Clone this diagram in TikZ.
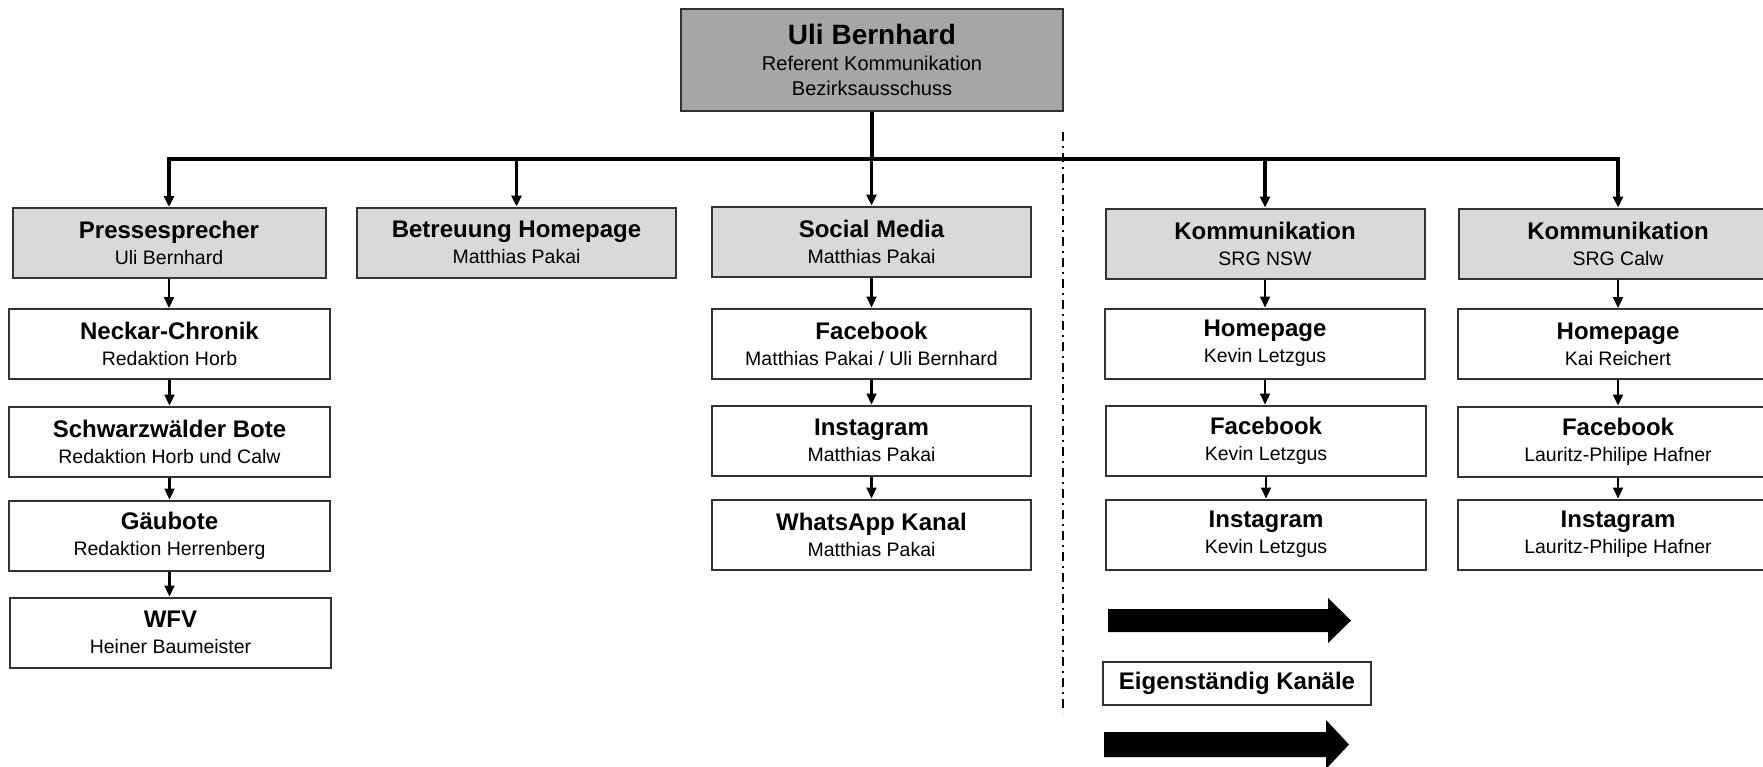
\documentclass[tikz,border=0pt]{standalone}
\usepackage{fontspec}
\setmainfont{Liberation Sans}
\usetikzlibrary{arrows.meta}
\newcommand{\boxtxt}[2]{{\fontsize{24}{26}\selectfont\bfseries #1}\\#2}
\begin{document}
\begin{tikzpicture}[x=1pt,y=-1pt]
\tikzstyle{every node}+=[inner sep=0pt]
\tikzstyle{head}=[draw=black!80, line width=2pt, fill=black!35, minimum width=382pt, minimum height=102pt, align=center, font=\fontsize{20}{25.5}\selectfont]
\tikzstyle{unit}=[draw=black!80, line width=2pt, fill=black!15, minimum width=319pt, minimum height=70pt, align=center, font=\fontsize{19.5}{26}\selectfont]
\tikzstyle{chan}=[unit, fill=white, minimum width=321pt]
\tikzstyle{link}=[black, line width=2.2pt, -{Triangle[length=11pt,width=10pt]}]
\useasboundingbox (0,0) rectangle (1763,766);
\node [head] (ub) at (872,60) {{\fontsize{28}{28}\selectfont\bfseries Uli Bernhard}\\Referent Kommunikation\\Bezirksausschuss};
\node [unit, minimum width=313pt] (press) at (169,243) {\boxtxt{Pressesprecher}{Uli Bernhard}};
\node [unit] (betr) at (516.5,242.5) {\boxtxt{Betreuung Homepage}{Matthias Pakai}};
\node [unit] (social) at (871.5,241.5) {\boxtxt{Social Media}{Matthias Pakai}};
\node [unit] (nsw) at (1265,243.5) {\boxtxt{Kommunikation}{SRG NSW}};
\node [unit] (calw) at (1618,243.5) {\boxtxt{Kommunikation}{SRG Calw}};
\node [chan] (neckar) at (169.5,344) {\boxtxt{Neckar-Chronik}{Redaktion Horb}};
\node [chan] (schwarz) at (169.5,441.5) {\boxtxt{Schwarzwälder Bote}{Redaktion Horb und Calw}};
\node [chan] (gaeu) at (169.5,535.5) {\boxtxt{Gäubote}{Redaktion Herrenberg}};
\node [chan] (wfv) at (170.5,632.5) {\boxtxt{WFV}{Heiner Baumeister}};
\node [chan, minimum width=319pt] (fbsm) at (871.5,343.5) {\boxtxt{Facebook}{Matthias Pakai / Uli Bernhard}};
\node [chan, minimum width=319pt] (igsm) at (871.5,440.5) {\boxtxt{Instagram}{Matthias Pakai}};
\node [chan, minimum width=319pt] (wasm) at (871.5,534.5) {\boxtxt{WhatsApp Kanal}{Matthias Pakai}};
\node [chan, minimum width=320pt] (hpnsw) at (1265,343.5) {\boxtxt{Homepage}{Kevin Letzgus}};
\node [chan, minimum width=320pt] (fbnsw) at (1266,440.5) {\boxtxt{Facebook}{Kevin Letzgus}};
\node [chan, minimum width=320pt] (ignsw) at (1266,534.5) {\boxtxt{Instagram}{Kevin Letzgus}};
\node [chan, minimum width=320pt] (hpcalw) at (1618,344) {\boxtxt{Homepage}{Kai Reichert}};
\node [chan, minimum width=320pt] (fbcalw) at (1618,441.5) {\boxtxt{Facebook}{Lauritz-Philipe Hafner}};
\node [chan, minimum width=320pt] (igcalw) at (1618,534.5) {\boxtxt{Instagram}{Lauritz-Philipe Hafner}};
\node [draw=black!80, line width=2pt, minimum width=268pt, minimum height=43pt, font=\fontsize{24}{26}\selectfont\bfseries] (eig) at (1237,683.5) {Eigenständig Kanäle};
\draw [black, line width=3.5pt] (ub.south) -- ++(0,47) coordinate (bus);
\foreach \n in {press,betr,social,nsw,calw}
  \draw [link, line width=3.2pt] (bus) -| (\n.north);
\foreach \a/\b in {press/neckar,neckar/schwarz,schwarz/gaeu,gaeu/wfv,social/fbsm,fbsm/igsm,igsm/wasm,nsw/hpnsw,hpnsw/fbnsw,fbnsw/ignsw,calw/hpcalw,hpcalw/fbcalw,fbcalw/igcalw}
  \draw [link] (\a.south) -- (\a.south |- \b.north);
\draw [black, line width=1.5pt, dash pattern=on 9pt off 5pt on 2pt off 5pt] (1063,132) -- (1063,713);
\fill [black] (1108,609) -- (1328,609) -- (1328,598) -- (1351,620.5) -- (1328,643) -- (1328,632) -- (1108,632) -- cycle;
\fill [black] (1104,732) -- (1326,732) -- (1326,720) -- (1349,744.5) -- (1326,769) -- (1326,757) -- (1104,757) -- cycle;
\end{tikzpicture}
\end{document}
